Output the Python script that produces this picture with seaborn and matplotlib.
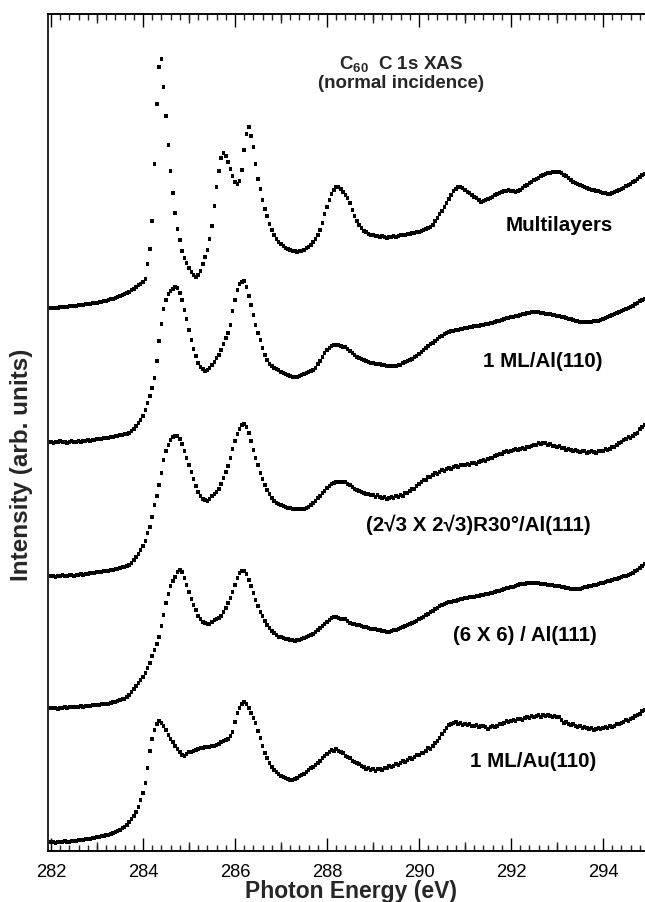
import numpy as np
import matplotlib
matplotlib.use("Agg")
import matplotlib.pyplot as plt
from matplotlib.ticker import MultipleLocator, FormatStrFormatter
import pandas as pd
import seaborn as sns

sns.set_theme(style="white")
plt.rcParams['font.family'] = ['Liberation Sans', 'DejaVu Sans']
plt.rcParams['mathtext.fontset'] = 'custom'
plt.rcParams['mathtext.rm'] = 'Liberation Sans:bold'
plt.rcParams['mathtext.it'] = 'Liberation Sans:bold'
plt.rcParams['mathtext.bf'] = 'Liberation Sans:bold'

# photon-energy sampling of the spectra (eV)
E_START = 282.0
E_STEP = 0.05

# intensities (arb. units, vertically offset as in the figure), one row per eV
multilayers = [
    543,543,543,543,544,544,544,544,545,545,545,545,546,546,546,547,547,547,548,548,
    548,549,549,550,550,551,552,552,553,554,555,556,557,558,559,561,562,564,566,567,
    569,572,587,602,630,687,747,784,792,764,735,706,680,658,638,622,611,600,593,588,
    583,579,576,574,576,580,587,594,601,612,625,645,664,680,693,698,695,689,682,675,
    669,667,670,681,701,717,724,715,704,687,672,662,651,642,635,627,621,616,612,609,
    607,605,603,602,601,600,600,599,600,600,601,603,604,606,609,612,616,621,628,637,
    644,651,657,661,664,664,662,659,656,653,648,641,635,630,626,623,620,619,617,616,
    616,615,615,614,615,614,613,614,614,615,614,615,616,616,616,617,617,618,618,619,
    619,620,621,622,623,624,626,630,633,637,640,644,648,652,656,660,662,664,664,663,
    661,659,658,656,654,653,651,649,650,651,652,653,654,656,657,658,659,660,660,661,
    660,660,659,660,661,663,665,666,668,669,671,672,673,675,676,677,678,678,679,679,
    679,679,678,676,675,673,671,669,668,667,666,665,664,663,662,661,661,660,660,659,
    658,658,657,657,658,659,660,661,662,663,665,666,667,669,670,672,674,676,677,
]

ml_al110 = [
    409,408,409,409,410,409,409,408,409,410,409,409,410,409,410,410,411,410,411,411,
    412,412,412,413,413,413,414,414,415,415,416,416,417,417,418,420,422,425,428,431,
    435,441,448,455,463,473,490,510,527,542,551,557,560,562,564,563,558,551,541,532,
    521,511,502,495,488,484,482,480,481,483,486,489,493,496,501,507,513,518,526,540,
    551,561,567,569,570,564,555,546,536,526,518,511,503,496,491,487,485,483,482,481,
    479,478,477,476,475,474,474,474,475,476,477,478,479,480,481,483,487,490,494,498,
    501,503,505,506,506,506,505,504,504,502,500,498,496,494,493,492,491,490,489,488,
    488,487,487,487,486,486,485,485,485,485,485,486,486,488,489,490,491,492,494,495,
    497,499,501,503,505,507,508,510,512,514,515,517,518,519,520,520,521,521,522,522,
    523,523,524,524,525,525,525,526,526,527,527,528,528,529,530,530,531,532,533,533,
    534,534,535,535,536,537,537,538,538,539,539,539,539,538,538,537,537,537,536,536,
    535,535,534,534,533,532,532,531,530,530,529,529,529,529,529,529,530,530,530,531,
    532,533,534,535,536,537,538,539,540,541,542,543,544,545,547,548,550,551,552,
]

r30_al111 = [
    275,275,274,275,275,276,275,275,276,276,275,276,276,277,276,277,277,278,278,278,
    279,279,279,280,280,280,281,281,282,282,283,284,284,285,286,288,291,294,297,301,
    305,310,318,324,334,346,355,366,378,391,400,406,411,414,415,415,412,407,400,393,
    386,379,372,365,359,355,352,351,350,352,355,357,359,362,367,373,379,385,393,402,
    410,417,422,426,427,424,418,410,401,393,386,378,372,366,361,357,353,350,348,347,
    346,345,344,343,343,342,342,342,342,342,342,343,344,346,348,350,353,355,358,360,
    363,365,367,368,369,369,369,369,369,367,366,364,362,361,360,359,358,357,357,356,
    356,354,356,354,353,354,352,353,354,353,355,354,356,355,358,358,360,362,362,365,
    367,369,371,371,374,374,376,378,377,379,381,380,382,383,382,384,385,384,386,386,
    386,387,386,388,388,387,389,390,391,390,392,393,393,395,396,397,397,399,400,399,
    400,401,402,401,402,403,402,404,404,405,406,406,408,407,408,408,406,407,405,405,
    404,405,403,403,401,402,401,400,401,400,399,400,400,398,399,400,399,398,400,400,
    400,402,401,402,404,404,406,408,409,411,412,414,413,415,417,418,422,424,426,
]

x6_al111 = [
    143,143,143,142,143,143,144,143,144,144,144,144,144,145,144,145,145,145,146,146,
    146,146,147,147,147,147,148,149,149,150,151,152,152,154,156,159,162,165,168,171,
    174,178,183,188,195,201,207,214,225,236,248,257,265,270,274,279,281,279,273,266,
    259,252,246,241,235,232,229,228,227,227,229,231,232,233,235,239,243,248,253,259,
    266,273,278,280,280,277,271,265,258,251,245,239,235,230,226,223,220,218,216,214,
    214,213,212,212,211,211,210,211,211,212,213,214,215,216,217,219,221,223,225,227,
    229,231,233,234,234,233,232,232,232,230,228,227,227,226,226,225,224,224,223,222,
    222,222,221,221,220,220,219,219,220,221,221,222,223,224,225,226,227,228,229,230,
    232,233,234,236,237,239,240,242,243,245,246,247,248,249,249,250,250,251,252,252,
    253,253,254,254,254,255,255,256,256,257,257,258,258,259,260,260,261,262,263,263,
    264,264,265,266,267,267,267,268,268,268,268,268,268,267,267,267,266,266,266,265,
    265,265,264,264,263,263,262,262,262,262,262,263,264,264,265,265,266,266,267,268,
    268,269,270,270,271,272,272,273,274,275,275,276,277,278,280,281,283,285,287,
]

ml_au110 = [
    9,9,8,9,9,9,10,9,9,10,10,10,11,11,11,12,12,12,13,13,
    14,14,15,15,16,16,17,18,19,20,21,23,24,26,29,32,35,39,44,51,
    58,68,83,100,112,121,127,130,128,125,121,116,112,109,105,102,99,96,95,97,
    99,99,100,101,102,103,103,104,104,104,105,105,106,107,109,110,111,112,115,119,
    129,138,143,147,149,147,143,138,133,128,120,113,105,98,93,88,84,81,79,77,
    75,74,73,72,71,71,72,73,75,76,77,79,81,83,84,86,88,90,93,95,
    97,99,101,100,102,100,99,98,95,94,93,90,89,88,87,85,84,82,83,81,
    82,80,82,82,81,83,83,85,84,85,87,86,88,90,89,91,93,92,94,96,
    96,98,98,100,103,102,105,108,110,113,117,120,123,126,127,128,129,127,128,126,
    127,126,127,125,125,126,124,125,125,124,122,124,125,124,125,127,127,128,130,129,
    130,131,130,132,132,131,133,134,133,135,134,135,136,134,136,135,136,135,134,135,
    134,134,131,128,129,127,126,127,125,124,125,123,124,123,122,123,121,122,123,122,
    123,124,123,125,124,125,127,127,128,129,131,130,132,133,135,136,137,140,141,
]

sample_labels = ["Multilayers", "1 ML/Al(110)", "(2\u221a3 X 2\u221a3)R30\u00b0/Al(111)",
                 "(6 X 6) / Al(111)", "1 ML/Au(110)"]
spectra = [multilayers, ml_al110, r30_al111, x6_al111, ml_au110]
# label anchor (energy, intensity) for each spectrum
label_energy = [293.04, 292.68, 291.28, 292.30, 292.48]
label_intensity = [621, 485, 321, 211, 85]

frames = []
for name, vals in zip(sample_labels, spectra):
    e = np.round(E_START + E_STEP * np.arange(len(vals)), 2)
    frames.append(pd.DataFrame({"energy": e, "intensity": vals, "sample": name}))
df = pd.concat(frames, ignore_index=True)

W, H = 645, 903
fig = plt.figure(figsize=(W / 100, H / 100), dpi=100)
ax = fig.add_axes([48 / W, 1 - 852 / H, (645 - 48) / W, (852 - 15) / H])

sns.scatterplot(data=df, x="energy", y="intensity", hue="sample",
                palette=["black"] * len(sample_labels), marker="s", s=6.5,
                linewidth=0, legend=False, ax=ax)

ax.set_xlim(281.935, 294.913)
ax.set_ylim(0, 837)
ax.set_xlabel("")
ax.set_ylabel("")
ax.set_yticks([])

for side in ["left", "bottom", "top"]:
    ax.spines[side].set_color("black")
    ax.spines[side].set_linewidth(1.2)
ax.spines["right"].set_visible(False)

ax.xaxis.set_major_locator(MultipleLocator(2))
ax.xaxis.set_major_formatter(FormatStrFormatter("%d"))
ax.xaxis.set_minor_locator(MultipleLocator(0.2))
ax.tick_params(axis="x", which="major", direction="in", length=9.4, width=1.0,
               top=True, bottom=True, labelsize=13.2, pad=9, colors="black")
ax.tick_params(axis="x", which="minor", direction="in", length=4.3, width=1.0,
               top=True, bottom=True)

odd_ticks = [283, 285, 287, 289, 291, 293]
for loc in ["bottom", "top"]:
    sec = ax.secondary_xaxis(loc)
    sec.set_xticks(odd_ticks)
    sec.tick_params(direction="in", length=6.5, width=1.0,
                    labelbottom=False, labeltop=False)
    sec.spines[loc].set_linewidth(1.2)

for name, ex, iy in zip(sample_labels, label_energy, label_intensity):
    ax.text(ex, iy, name, ha="center", va="baseline", fontsize=14.8,
            fontweight="bold", color="black")

ax.text(289.61, 783, r"C$_{60}$  C 1s XAS", ha="center", va="baseline",
        fontsize=13.5, fontweight="bold")
ax.text(289.61, 764, "(normal incidence)", ha="center", va="baseline",
        fontsize=13.5, fontweight="bold")

fig.text(351 / W, 1 - 898 / H, "Photon Energy (eV)", ha="center", va="baseline",
         fontsize=16.5, fontweight="bold")
fig.text(22 / W, 1 - 465 / H, "Intensity (arb. units)", ha="center", va="center",
         rotation=90, fontsize=17.5, fontweight="bold")

fig.savefig("out.png", dpi=100)
